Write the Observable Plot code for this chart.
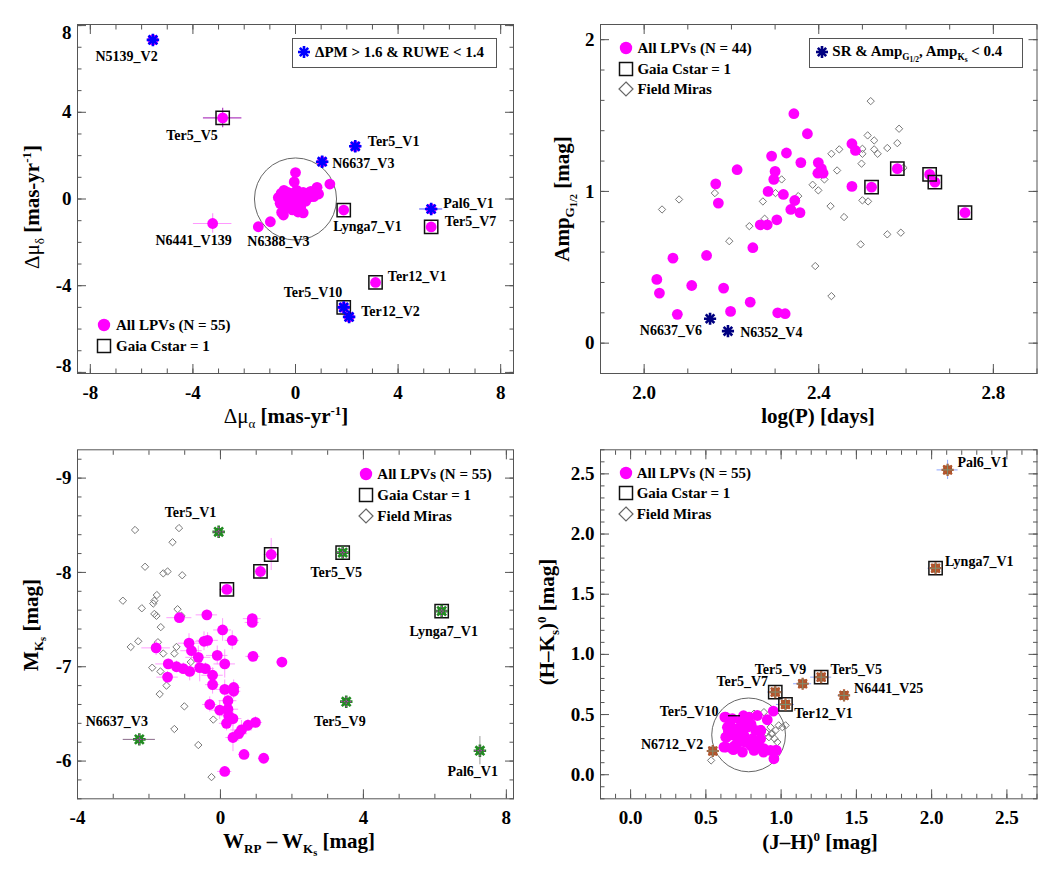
<!DOCTYPE html>
<html><head><meta charset="utf-8">
<script src="https://cdn.jsdelivr.net/npm/d3@7"></script>
<script src="https://cdn.jsdelivr.net/npm/@observablehq/plot@0.6"></script>
<style>
body{margin:0;background:#fff;}
#root{position:relative;width:1058px;height:871px;background:#fff;font-family:'Liberation Serif','Times New Roman',Tinos,'DejaVu Serif',serif;font-weight:bold;color:#000;overflow:hidden;}
.panel{position:absolute;}
.t{position:absolute;white-space:nowrap;line-height:1;}
sub,sup{font-size:0.62em;line-height:0;}
sub sub{font-size:0.8em;}
.ytitle{transform:translate(-50%,-50%) rotate(-90deg);}
.xtitle{transform:translate(-50%,-50%);}
.leg{transform:translateY(-50%);}
.box{position:absolute;border:1px solid #555;}
.nb{font-weight:normal;}
</style>
</head><body><div id="root"></div>
<script>
// ================= DATA =================
// ---- Panel 1: proper-motion offsets (mas/yr) ----
const pmNames = ["N5139_V2","Ter5_V5","Ter5_V1","N6637_V3","Pal6_V1","Ter5_V7","Lynga7_V1","N6441_V139","N6388_V3","Ter12_V1","Ter5_V10","Ter12_V2"];
const pmRA    = [-5.56,-2.84,2.33,1.04,5.29,5.29,1.88,-3.23,-1.45,3.12,1.88,2.09];
const pmDec   = [7.34,3.74,2.43,1.72,-0.46,-1.29,-0.51,-1.13,-1.28,-3.85,-5.00,-5.44];
const pmFlagged = ["N5139_V2","Ter5_V1","N6637_V3","Pal6_V1","Ter5_V10","Ter12_V2"];
const pmCstar   = ["Ter5_V5","Ter5_V7","Lynga7_V1","Ter12_V1","Ter5_V10"];
const pmClusterRA  = [-0.98,0.00,-0.05,1.34,0.84,0.49,0.71,0.90,-0.56,-0.30,-0.03,0.17,-0.41,-0.22,0.04,-0.54,0.30,-0.47,-0.67,0.36,-0.09,-0.20,0.10,-0.35,0.22,-0.12,0.05,-0.45,0.60,0.25,-0.15,0.40,-0.60,0.10,-0.28,0.00,-0.05,0.55,-0.38,0.02,0.30,-0.15,0.20];
const pmClusterDec = [-1.05,1.22,0.79,0.69,0.54,0.28,0.11,0.23,0.26,0.31,0.07,-0.08,-0.16,-0.31,-0.39,-0.62,-0.64,-0.74,0.07,0.15,-0.16,0.12,0.20,0.05,-0.25,-0.50,0.40,0.40,0.35,0.05,0.25,-0.10,-0.20,-0.60,-0.05,0.30,-0.25,0.10,-0.40,0.15,0.30,-0.10,-0.40];
const pmErrNames = ["Ter5_V5","N6441_V139","Pal6_V1"];
const pmErrRA    = [0.75,0.75,0.45];
const pmErrDec   = [0.45,0.45,0.0];
const pmCut = 1.6;
const pmLabX = [-7.80,-5.04,2.82,1.43,5.76,5.82,1.47,-5.46,-1.88,3.60,-0.46,2.56];
const pmLabY = [6.57,2.93,2.65,1.62,-0.22,-1.04,-1.25,-1.91,-1.95,-3.57,-4.30,-5.19];

// ---- Panel 2: amplitude vs log period ----
const ampLogP = [2.343,2.374,2.476,2.484,2.326,2.292,2.359,2.399,2.406,2.398,2.41,2.213,2.30,2.297,2.164,2.284,2.319,2.17,2.345,2.336,2.357,2.476,2.304,2.266,2.282,2.249,2.066,2.143,2.029,2.035,2.109,2.182,2.243,2.076,2.198,2.306,2.323];
const ampG    = [1.512,1.38,1.314,1.27,1.253,1.233,1.19,1.19,1.15,1.12,1.12,1.143,1.132,1.079,1.05,1.0,0.98,0.923,0.94,0.881,0.86,1.033,0.813,0.78,0.78,0.629,0.56,0.578,0.42,0.33,0.38,0.363,0.27,0.19,0.209,0.2,0.194];
const ampCsLogP = [2.521,2.58,2.654,2.666,2.735];
const ampCsG    = [1.028,1.15,1.112,1.061,0.86];
const srNames = ["N6637_V6","N6352_V4"];
const srLogP  = [2.151,2.192];
const srAmp   = [0.161,0.079];
const miraLogP = [2.041,2.08,2.162,2.195,2.241,2.272,2.276,2.301,2.315,2.353,2.386,2.399,2.413,2.392,2.427,2.429,2.429,2.447,2.442,2.458,2.496,2.498,2.5,2.5,2.5,2.512,2.513,2.519,2.527,2.527,2.535,2.557,2.557,2.58,2.584,2.588,2.594];
const miraAmp  = [0.881,0.947,0.989,0.672,0.771,0.934,0.82,0.989,1.079,0.969,1.044,1.007,1.079,0.508,0.903,0.31,1.248,1.277,1.138,0.831,0.651,1.183,1.248,1.281,0.941,1.369,0.934,1.595,1.336,1.277,1.248,1.286,0.717,1.318,1.413,0.728,1.156];
const srLabX = [1.990,2.220];
const srLabY = [0.084,0.069];

// ---- Panel 3: M_Ks vs W_RP - W_Ks ----
const cmdW  = [-1.15,-0.38,0.89,0.89,0.06,0.33,-0.36,-0.46,-0.88,-0.81,-1.80,-0.62,-0.09,0.91,0.12,1.72,-1.46,-1.23,-1.04,-0.86,-0.58,-0.42,-1.48,-0.22,-0.22,0.12,0.37,0.37,0.21,-0.30,-0.02,0.21,0.23,0.35,0.17,0.77,0.98,0.59,0.35,0.51,0.66,1.21,0.12];
const cmdM  = [-7.52,-7.55,-7.51,-7.47,-7.39,-7.28,-7.28,-7.27,-7.25,-7.17,-7.20,-7.10,-7.12,-7.11,-7.03,-7.05,-7.03,-7.00,-6.98,-6.95,-6.99,-6.98,-6.89,-6.91,-6.81,-6.76,-6.78,-6.74,-6.64,-6.60,-6.54,-6.55,-6.48,-6.45,-6.40,-6.38,-6.41,-6.33,-6.25,-6.29,-6.07,-6.03,-5.89];
const cmdWe = [0.35,0.30,0.25,0.20,0.25,0.20,0.30,0.25,0.30,0.30,0.40,0.35,0.30,0.20,0.30,0.15,0.35,0.30,0.25,0.25,0.30,0.25,0.30,0.30,0.20,0.25,0.20,0.20,0.25,0.20,0.25,0.30,0.20,0.25,0.20,0.25,0.20,0.30,0.20,0.25,0.15,0.15,0.20];
const cmdMe = [0.05,0.05,0.05,0.05,0.12,0.10,0.08,0.10,0.10,0.10,0.08,0.12,0.10,0.05,0.15,0.05,0.05,0.06,0.06,0.10,0.15,0.06,0.06,0.08,0.10,0.10,0.08,0.08,0.12,0.08,0.10,0.10,0.10,0.08,0.08,0.06,0.06,0.10,0.15,0.08,0.05,0.05,0.05];
const cmdCsW  = [1.42,1.12,0.18];
const cmdCsM  = [-8.19,-8.01,-7.82];
const cmdCsWe = [0.20,0.15,0.20];
const cmdCsMe = [0.17,0.08,0.05];
const cmdSpNames = ["Ter5_V1","Ter5_V5","Lynga7_V1","Ter5_V9","N6637_V3","Pal6_V1"];
const cmdSpW  = [-0.05,3.42,6.19,3.52,-2.27,7.26];
const cmdSpM  = [-8.43,-8.21,-7.59,-6.63,-6.23,-6.11];
const cmdSpWe = [0.10,0.10,0.10,0.10,0.45,0.05];
const cmdSpMe = [0.03,0.03,0.03,0.03,0.03,0.15];
const cmdSpCstar = ["Ter5_V5","Lynga7_V1"];
const miraW = [-2.39,-1.16,-1.34,-2.11,-1.60,-1.48,-1.07,-1.78,-1.85,-1.88,-2.73,-2.20,-1.20,-1.09,-1.85,-1.79,-1.67,-2.30,-2.51,-1.75,-1.23,-1.60,-1.29,-0.83,-1.91,-1.68,-1.51,-1.70,-1.01,-0.20,-1.29,-0.62,-0.25];
const miraM = [-8.45,-8.47,-8.32,-8.06,-7.99,-8.01,-7.97,-7.76,-7.70,-7.67,-7.70,-7.62,-7.61,-7.54,-7.56,-7.54,-7.42,-7.27,-7.21,-7.26,-7.21,-7.14,-7.14,-7.05,-6.99,-6.95,-6.80,-6.71,-6.58,-6.44,-6.34,-6.17,-5.83];
const cmdLabX = [-1.56,2.52,5.29,2.62,-3.77,6.35];
const cmdLabY = [-8.63,-8.00,-7.37,-6.42,-6.42,-5.89];

// ---- Panel 4: (H-Ks)0 vs (J-H)0 ----
const ccSpNames = ["Pal6_V1","Lynga7_V1","Ter5_V7","Ter5_V9","Ter5_V5","N6441_V25","Ter12_V1","N6712_V2"];
const ccSpJH = [2.106,2.026,0.961,1.143,1.266,1.418,1.029,0.546];
const ccSpHK = [2.533,1.716,0.687,0.756,0.811,0.659,0.584,0.197];
const ccSpJHe = [0.07,0.05,0.05,0.06,0.07,0.04,0.06,0.03];
const ccSpHKe = [0.08,0.05,0.04,0.03,0.04,0.03,0.05,0.03];
const ccSpCstar = ["Lynga7_V1","Ter5_V7","Ter5_V5","Ter12_V1"];
const ccJH = [0.948,0.908,0.864,0.632,0.676,0.731,0.787,0.842,0.643,0.709,0.776,0.831,0.632,0.687,0.753,0.809,0.864,0.62,0.676,0.743,0.820,0.886,0.930,0.964,0.952,0.798,0.709,0.626,0.683,0.633,0.883,0.638,0.729,0.82,0.865,0.968,0.66,0.70,0.76,0.80,0.72,0.65,0.78,0.85,0.69,0.74];
const ccHK = [0.528,0.457,0.368,0.478,0.465,0.451,0.478,0.492,0.395,0.382,0.395,0.368,0.312,0.326,0.326,0.299,0.299,0.229,0.216,0.188,0.202,0.216,0.202,0.202,0.133,0.243,0.257,0.479,0.208,0.23,0.188,0.313,0.341,0.285,0.368,0.202,0.42,0.35,0.27,0.42,0.29,0.36,0.44,0.25,0.24,0.40];
const ccT10 = {name:"Ter5_V10", jh:0.75, hk:0.49, leaderFrom:0.65};
const ccMiraJH = [0.82,0.886,0.930,0.942,0.919,0.975,1.008,1.03,0.963,0.934,0.956,0.535,0.984,0.90];
const ccMiraHK = [0.507,0.520,0.395,0.341,0.312,0.271,0.395,0.41,0.368,0.34,0.30,0.119,0.41,0.35];
const ccCircle = {jh:0.784, hk:0.331, r:0.245};
const ccLabNames = ["Pal6_V1","Lynga7_V1","Ter5_V9","Ter5_V5","Ter5_V7","N6441_V25","Ter12_V1","Ter5_V10","N6712_V2"];
const ccLabX = [2.171,2.089,0.825,1.328,0.570,1.485,1.087,0.194,0.069];
const ccLabY = [2.592,1.771,0.871,0.871,0.777,0.718,0.510,0.525,0.250];

// ---- tick values ----
const p1XTicks = [-8,-4,0,4,8], p1YTicks = [-8,-4,0,4,8];
const p2XTicks = [2.0,2.4,2.8], p2YTicks = [0,1,2];
const p3XTicks = [-4,0,4,8], p3YTicks = [-9,-8,-7,-6];
const p4XTicks = [0,0.5,1.0,1.5,2.0,2.5], p4YTicks = [0,0.5,1.0,1.5,2.0,2.5];
const rng = (a,b,s) => d3.range(Math.round((b-a)/s)+1).map(i => +(a+i*s).toFixed(4));

// ================= RENDER =================
const root = document.getElementById("root");
const FONT = "'Liberation Serif','Times New Roman',Tinos,'DejaVu Serif',serif";
const MAG = "#ff00ff";
const TICK = "#555";

function frameAxes(o){
  const m = [Plot.frame({stroke:TICK, strokeWidth:1})];
  for (const a of ["bottom","top"]) {
    m.push(Plot.axisX({anchor:a, ticks:o.xMin, tickSize:-4.5, tickFormat:()=>"", label:null, stroke:TICK}));
    m.push(Plot.axisX({anchor:a, ticks:o.xMaj, tickSize:-9, tickFormat:()=>"", label:null, stroke:TICK}));
  }
  for (const a of ["left","right"]) {
    m.push(Plot.axisY({anchor:a, ticks:o.yMin, tickSize:-4.5, tickFormat:()=>"", label:null, stroke:TICK}));
    m.push(Plot.axisY({anchor:a, ticks:o.yMaj, tickSize:-9, tickFormat:()=>"", label:null, stroke:TICK}));
  }
  m.push(Plot.axisX({anchor:"bottom", ticks:o.xMaj, tickSize:0, tickPadding:12, tickFormat:o.xFmt, label:null, fontSize:19, fontWeight:"bold", fill:"#000", fontFamily:FONT}));
  const lo = Math.min(...o.yMaj), hi = Math.max(...o.yMaj);
  const mid = o.clampY ? o.yMaj.filter(v => v!==lo && v!==hi) : o.yMaj;
  const ty = {y:d=>d, text:o.yFmt, frameAnchor:"left", dx:-6, textAnchor:"end", fontSize:19, fontWeight:"bold", fontFamily:FONT};
  m.push(Plot.text(mid, {...ty, lineAnchor:"middle"}));
  if (o.clampY) {
    m.push(Plot.text([hi], {...ty, lineAnchor:"top"}));
    m.push(Plot.text([lo], {...ty, lineAnchor:"bottom"}));
  }
  return m;
}
function star(data, x, y, color, r, w){
  return [
    Plot.dot(data, {x, y, symbol:"plus", r, stroke:color, strokeWidth:w, fill:"none"}),
    Plot.dot(data, {x, y, symbol:"times", r, stroke:color, strokeWidth:w, fill:"none"})
  ];
}
function panel(o){
  const svg = Plot.plot({
    width:o.w, height:o.h, marginLeft:o.ml, marginRight:o.mr, marginTop:o.mt, marginBottom:o.mb,
    x:{domain:o.xd, label:null}, y:{domain:o.yd, label:null},
    style:{fontFamily:FONT, fontWeight:"bold", fontSize:"14px", background:"transparent", overflow:"visible"},
    marks:[...o.marks, ...frameAxes(o)]
  });
  const d = document.createElement("div");
  d.className = "panel"; d.style.left = o.left+"px"; d.style.top = o.top+"px";
  d.appendChild(svg); root.appendChild(d);
}
const labelStyle = {textAnchor:"start", lineAnchor:"middle", fontSize:14, fontWeight:"bold", fill:"#000", fontFamily:FONT};

// ---------- Panel 1 ----------
{
  const named = pmNames.map((n,i)=>({n, x:pmRA[i], y:pmDec[i]}));
  const cluster = pmClusterRA.map((x,i)=>({x, y:pmClusterDec[i]}));
  const errColor = {"Ter5_V5":"#b040c0","N6441_V139":"#ff99ff","Pal6_V1":"#6a6aff"};
  const errs = pmErrNames.map((n,i)=>{const p=named.find(d=>d.n===n); return {...p, ex:pmErrRA[i], ey:pmErrDec[i], c:errColor[n]};});
  const o = {left:0, top:0, w:529, h:435, ml:77, mr:16, mt:24, mb:62, xd:[-8.5,8.5], yd:[-8.05,8.05]};
  const pxPerX = (o.w-o.ml-o.mr)/(o.xd[1]-o.xd[0]);
  const labs = pmNames.map((n,i)=>({n, x:pmLabX[i], y:pmLabY[i]}));
  const flagged = named.filter(d=>pmFlagged.includes(d.n));
  o.marks = [
    Plot.dot([{x:0,y:0}], {x:"x", y:"y", r:pmCut*pxPerX, stroke:"#666", strokeWidth:1, fill:"none"}),
    Plot.ruleY(errs, {y:"y", x1:d=>d.x-d.ex, x2:d=>d.x+d.ex, stroke:"c", strokeWidth:1.2}),
    Plot.ruleX(errs.filter(d=>d.ey>0), {x:"x", y1:d=>d.y-d.ey, y2:d=>d.y+d.ey, stroke:"c", strokeWidth:1.2}),
    Plot.dot(cluster, {x:"x", y:"y", r:5.4, fill:MAG}),
    Plot.dot(named, {x:"x", y:"y", r:5.4, fill:MAG}),
    Plot.dot(named.filter(d=>pmCstar.includes(d.n)), {x:"x", y:"y", symbol:"square", r:7.5, stroke:"#111", strokeWidth:1.5, fill:"none"}),
    Plot.dot(flagged, {x:"x", y:"y", symbol:"square", r:3.2, fill:"#0000ff"}),
    ...star(flagged, "x", "y", "#0000ff", 4.1, 2.6),
    Plot.text(labs, {x:"x", y:"y", text:"n", ...labelStyle})
  ];
  Object.assign(o, {xMaj:p1XTicks, xMin:rng(-8,8,1), yMaj:p1YTicks, yMin:rng(-8,8,1), xFmt:d=>String(d), yFmt:d=>String(d), clampY:true});
  panel(o);
}
// ---------- Panel 2 ----------
{
  const lpv = ampLogP.map((x,i)=>({x, y:ampG[i]}));
  const cs = ampCsLogP.map((x,i)=>({x, y:ampCsG[i]}));
  const sr = srNames.map((n,i)=>({n, x:srLogP[i], y:srAmp[i]}));
  const mira = miraLogP.map((x,i)=>({x, y:miraAmp[i]}));
  const labs = srNames.map((n,i)=>({n, x:srLabX[i], y:srLabY[i]}));
  const o = {left:529, top:0, w:529, h:435, ml:71, mr:21.5, mt:24, mb:62, xd:[1.9,2.9], yd:[-0.2,2.1]};
  o.marks = [
    Plot.dot(mira, {x:"x", y:"y", symbol:"diamond2", r:3.3, stroke:"#777", strokeWidth:1, fill:"none"}),
    Plot.dot(lpv, {x:"x", y:"y", r:5.4, fill:MAG}),
    Plot.dot(cs, {x:"x", y:"y", r:5.4, fill:MAG}),
    Plot.dot(cs, {x:"x", y:"y", symbol:"square", r:7.5, stroke:"#111", strokeWidth:1.5, fill:"none"}),
    Plot.dot(sr, {x:"x", y:"y", symbol:"square", r:3, fill:"#000080"}),
    ...star(sr, "x", "y", "#000080", 4.0, 2.6),
    Plot.text(labs, {x:"x", y:"y", text:"n", ...labelStyle})
  ];
  Object.assign(o, {xMaj:p2XTicks, xMin:rng(1.9,2.9,0.1), yMaj:p2YTicks, yMin:rng(-0.2,2.0,0.2), xFmt:d=>d.toFixed(1), yFmt:d=>String(d)});
  panel(o);
}
// ---------- Panel 3 ----------
{
  const lpv = cmdW.map((x,i)=>({x, y:cmdM[i], ex:cmdWe[i], ey:cmdMe[i]}));
  const cs = cmdCsW.map((x,i)=>({x, y:cmdCsM[i], ex:cmdCsWe[i], ey:cmdCsMe[i]}));
  const sp = cmdSpNames.map((n,i)=>({n, x:cmdSpW[i], y:cmdSpM[i], ex:cmdSpWe[i], ey:cmdSpMe[i]}));
  const mira = miraW.map((x,i)=>({x, y:miraM[i]}));
  const labs = cmdSpNames.map((n,i)=>({n, x:cmdLabX[i], y:cmdLabY[i]}));
  const all = [...lpv, ...cs];
  const o = {left:0, top:435, w:529, h:436, ml:77, mr:16, mt:14.3, mb:72.7, xd:[-4,8.2], yd:[-5.6,-9.3]};
  o.marks = [
    Plot.dot(mira, {x:"x", y:"y", symbol:"diamond2", r:3.3, stroke:"#777", strokeWidth:1, fill:"none"}),
    Plot.ruleY(all, {y:"y", x1:d=>d.x-d.ex, x2:d=>d.x+d.ex, stroke:"#ff7dff", strokeOpacity:0.75, strokeWidth:1}),
    Plot.ruleX(all, {x:"x", y1:d=>d.y-d.ey, y2:d=>d.y+d.ey, stroke:"#ff7dff", strokeOpacity:0.75, strokeWidth:1}),
    Plot.ruleY(sp, {y:"y", x1:d=>d.x-d.ex, x2:d=>d.x+d.ex, stroke:"#8a6a8a", strokeWidth:1}),
    Plot.ruleX(sp, {x:"x", y1:d=>d.y-d.ey, y2:d=>d.y+d.ey, stroke:"#9a9a9a", strokeWidth:1}),
    Plot.dot(lpv, {x:"x", y:"y", r:5.4, fill:MAG}),
    Plot.dot(cs, {x:"x", y:"y", r:5.4, fill:MAG}),
    Plot.dot(cs, {x:"x", y:"y", symbol:"square", r:7.5, stroke:"#111", strokeWidth:1.5, fill:"none"}),
    Plot.dot(sp.filter(d=>cmdSpCstar.includes(d.n)), {x:"x", y:"y", symbol:"square", r:7.5, stroke:"#111", strokeWidth:1.5, fill:"none"}),
    Plot.dot(sp, {x:"x", y:"y", symbol:"square", r:4.3, fill:"#228b22"}),
    ...star(sp, "x", "y", "#228b22", 4.1, 2.6),
    Plot.dot(sp, {x:"x", y:"y", symbol:"plus", r:3.6, stroke:MAG, strokeWidth:0.8, strokeDasharray:"1.5,1.5", fill:"none"}),
    Plot.text(labs, {x:"x", y:"y", text:"n", ...labelStyle})
  ];
  Object.assign(o, {xMaj:p3XTicks, xMin:rng(-4,8,1), yMaj:p3YTicks, yMin:rng(-9.2,-5.6,0.2), xFmt:d=>String(d), yFmt:d=>String(d)});
  panel(o);
}
// ---------- Panel 4 ----------
{
  const lpv = ccJH.map((x,i)=>({x, y:ccHK[i]}));
  const sp = ccSpNames.map((n,i)=>({n, x:ccSpJH[i], y:ccSpHK[i], ex:ccSpJHe[i], ey:ccSpHKe[i]}));
  const mira = ccMiraJH.map((x,i)=>({x, y:ccMiraHK[i]}));
  const labs = ccLabNames.map((n,i)=>({n, x:ccLabX[i], y:ccLabY[i]}));
  const t10 = [{x:ccT10.jh, y:ccT10.hk, x0:ccT10.leaderFrom}];
  const o = {left:529, top:435, w:529, h:436, ml:71, mr:21.5, mt:14.3, mb:72.7, xd:[-0.2,2.7], yd:[-0.2,2.7]};
  const pxPerX = (o.w-o.ml-o.mr)/(o.xd[1]-o.xd[0]);
  o.marks = [
    Plot.dot([ccCircle], {x:"jh", y:"hk", r:ccCircle.r*pxPerX, stroke:"#666", strokeWidth:1, fill:"none"}),
    Plot.dot(mira, {x:"x", y:"y", symbol:"diamond2", r:3.3, stroke:"#777", strokeWidth:1, fill:"none"}),
    Plot.ruleY(sp, {y:"y", x1:d=>d.x-d.ex, x2:d=>d.x+d.ex, stroke:"#8ea6ff", strokeWidth:1}),
    Plot.ruleX(sp, {x:"x", y1:d=>d.y-d.ey, y2:d=>d.y+d.ey, stroke:"#8ea6ff", strokeWidth:1}),
    Plot.dot(lpv, {x:"x", y:"y", r:5.4, fill:MAG}),
    Plot.dot(t10, {x:"x", y:"y", r:5.4, fill:MAG}),
    Plot.ruleY(t10, {y:"y", x1:"x0", x2:d=>d.x-0.02, stroke:"#000", strokeWidth:1.2}),
    Plot.dot(sp.filter(d=>ccSpCstar.includes(d.n)), {x:"x", y:"y", symbol:"square", r:7.5, stroke:"#111", strokeWidth:1.5, fill:"none"}),
    Plot.dot(sp, {x:"x", y:"y", symbol:"square", r:5.0, fill:"#9c5030"}),
    ...star(sp, "x", "y", "#b5562c", 4.0, 2.2),
    Plot.dot(sp, {x:"x", y:"y", symbol:"plus", r:3.6, stroke:"#7d8f72", strokeWidth:1, fill:"none"}),
    Plot.text(labs, {x:"x", y:"y", text:"n", ...labelStyle})
  ];
  Object.assign(o, {xMaj:p4XTicks, xMin:rng(-0.2,2.7,0.1), yMaj:p4YTicks, yMin:rng(-0.2,2.7,0.1), xFmt:d=>d.toFixed(1), yFmt:d=>d.toFixed(1)});
  panel(o);
}

// ================= HTML TEXT: titles & legends =================
function addText(html, left, top, cls, size){
  const d = document.createElement("div");
  d.className = "t " + cls; d.style.left = left+"px"; d.style.top = top+"px"; d.style.fontSize = size+"px";
  d.innerHTML = html; root.appendChild(d);
}
function addBox(l,t,w,h){ const d=document.createElement("div"); d.className="box"; Object.assign(d.style,{left:l+"px",top:t+"px",width:w+"px",height:h+"px"}); root.appendChild(d); }
function addSym(kind, cx, cy, color){
  const s = 18; let inner = "";
  if (kind==="dot") inner = `<circle cx="9" cy="9" r="6.2" fill="${MAG}"/>`;
  if (kind==="square") inner = `<rect x="2.5" y="2.5" width="13" height="13" fill="none" stroke="#111" stroke-width="1.5"/>`;
  if (kind==="diamond") inner = `<polygon points="9,2 16,9 9,16 2,9" fill="none" stroke="#666" stroke-width="1.2"/>`;
  if (kind==="star") inner = `<g stroke="${color}" stroke-width="2.6"><rect x="6" y="6" width="6" height="6" fill="${color}" stroke="none"/><line x1="9" y1="3" x2="9" y2="15"/><line x1="3" y1="9" x2="15" y2="9"/><line x1="4.8" y1="4.8" x2="13.2" y2="13.2"/><line x1="4.8" y1="13.2" x2="13.2" y2="4.8"/></g>`;
  const d = document.createElement("div");
  d.style.cssText = `position:absolute;left:${cx-s/2}px;top:${cy-s/2}px;width:${s}px;height:${s}px;`;
  d.innerHTML = `<svg width="${s}" height="${s}">${inner}</svg>`;
  root.appendChild(d);
}
const TS = 21, LS = 15;
// axis titles
addText('<span class="nb">Δμ<sub>α</sub></span> [mas-yr<sup>-1</sup>]', 286, 416, "xtitle", TS);
addText('<span class="nb">Δμ<sub>δ</sub></span> [mas-yr<sup>-1</sup>]', 32, 207, "ytitle", TS);
addText('log(P) [days]', 818, 416, "xtitle", TS);
addText('Amp<sub>G<sub>1/2</sub></sub> [mag]', 563, 199, "ytitle", TS);
addText('W<sub>RP</sub> – W<sub>K<sub>s</sub></sub> [mag]', 299, 842, "xtitle", TS);
addText('M<sub>K<sub>s</sub></sub> [mag]', 32, 625, "ytitle", TS);
addText('(J–H)<sup>0</sup> [mag]', 820, 842, "xtitle", TS);
addText('(H–K<sub>s</sub>)<sup>0</sup> [mag]', 547, 622, "ytitle", TS);
// panel 1 legends
addBox(291.7, 38.3, 203, 27.5);
addSym("star", 304, 52, "#0000ff");
addText('ΔPM &gt; 1.6 &amp; RUWE &lt; 1.4', 315, 52, "leg", LS);
addSym("dot", 104.3, 325); addText('All LPVs (N = 55)', 116, 325, "leg", LS);
addSym("square", 104.3, 345.7); addText('Gaia Cstar = 1', 116, 345.7, "leg", LS);
// panel 2 legends
addBox(809.3, 38.3, 211.5, 27.5);
addSym("star", 822, 52, "#000080");
addText('SR &amp; Amp<sub>G<sub>1/2</sub></sub>, Amp<sub>K<sub>s</sub></sub> &lt; 0.4', 832.3, 52, "leg", LS);
addSym("dot", 625.7, 48.3); addText('All LPVs (N = 44)', 637.4, 48.3, "leg", LS);
addSym("square", 625.7, 69); addText('Gaia Cstar = 1', 637.4, 69, "leg", LS);
addSym("diamond", 625.7, 89.3); addText('Field Miras', 637.4, 89.3, "leg", LS);
// panel 3 legends
addSym("dot", 365.7, 474.3); addText('All LPVs (N = 55)', 377.3, 474.3, "leg", LS);
addSym("square", 365.7, 495); addText('Gaia Cstar = 1', 377.3, 495, "leg", LS);
addSym("diamond", 365.7, 516); addText('Field Miras', 377.3, 516, "leg", LS);
// panel 4 legends
addSym("dot", 625.7, 472.7); addText('All LPVs (N = 55)', 636.7, 472.7, "leg", LS);
addSym("square", 625.7, 493.3); addText('Gaia Cstar = 1', 636.7, 493.3, "leg", LS);
addSym("diamond", 625.7, 514); addText('Field Miras', 636.7, 514, "leg", LS);
</script>
</body></html>
